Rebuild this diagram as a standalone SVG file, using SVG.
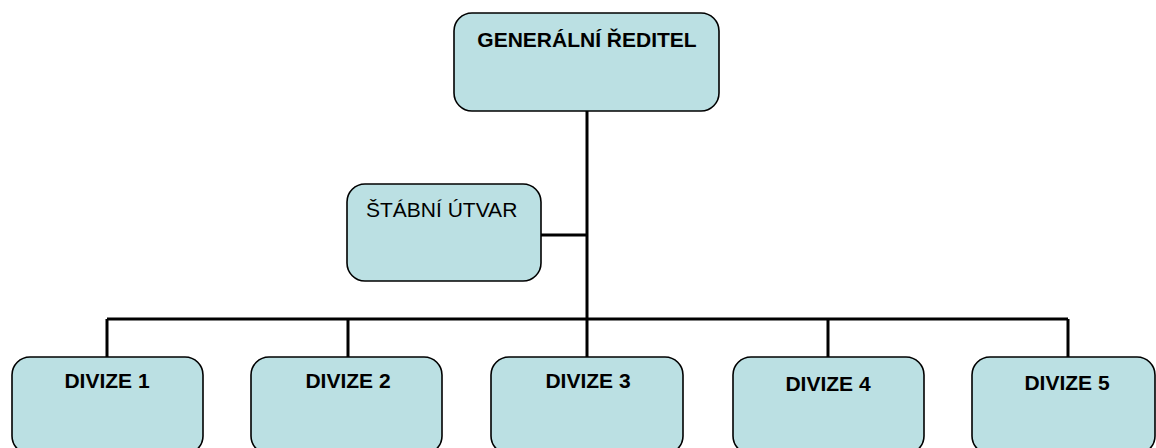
<svg xmlns="http://www.w3.org/2000/svg" width="1156" height="448" viewBox="0 0 1156 448">
<style>
.box{fill:#BBE0E3;stroke:#000;stroke-width:1.6}
.b{font-family:"Liberation Sans",Arial,sans-serif;font-weight:bold;font-size:21px;fill:#000;text-anchor:middle}
.r{font-family:"Liberation Sans",Arial,sans-serif;font-size:21px;fill:#000}
.c{fill:none;stroke:#000;stroke-width:3}
</style>
<rect width="1156" height="448" fill="#fff"/>
<g id="connectors">
<path class="c" d="M587 111V319M541 235H587M107 319H1068M107 319V357M348 319V357M587 319V357M828 319V357M1068 319V357"/>
</g>
<g id="reditel">
<rect class="box" x="454" y="13" width="265" height="98" rx="18"/>
<text class="b" x="587" y="47">GENERÁLNÍ ŘEDITEL</text>
</g>
<g id="stab">
<rect class="box" x="347" y="184" width="194" height="97" rx="18"/>
<text class="r" x="366" y="217">ŠTÁBNÍ ÚTVAR</text>
</g>
<g id="divize1">
<rect class="box" x="12" y="357" width="191" height="97" rx="18"/>
<text class="b" x="107" y="388">DIVIZE 1</text>
</g>
<g id="divize2">
<rect class="box" x="251" y="357" width="191" height="97" rx="18"/>
<text class="b" x="348" y="388">DIVIZE 2</text>
</g>
<g id="divize3">
<rect class="box" x="491" y="357" width="192" height="97" rx="18"/>
<text class="b" x="588" y="388">DIVIZE 3</text>
</g>
<g id="divize4">
<rect class="box" x="733" y="357" width="191" height="97" rx="18"/>
<text class="b" x="828" y="391">DIVIZE 4</text>
</g>
<g id="divize5">
<rect class="box" x="972" y="357" width="183" height="97" rx="18"/>
<text class="b" x="1067" y="390">DIVIZE 5</text>
</g>
</svg>
